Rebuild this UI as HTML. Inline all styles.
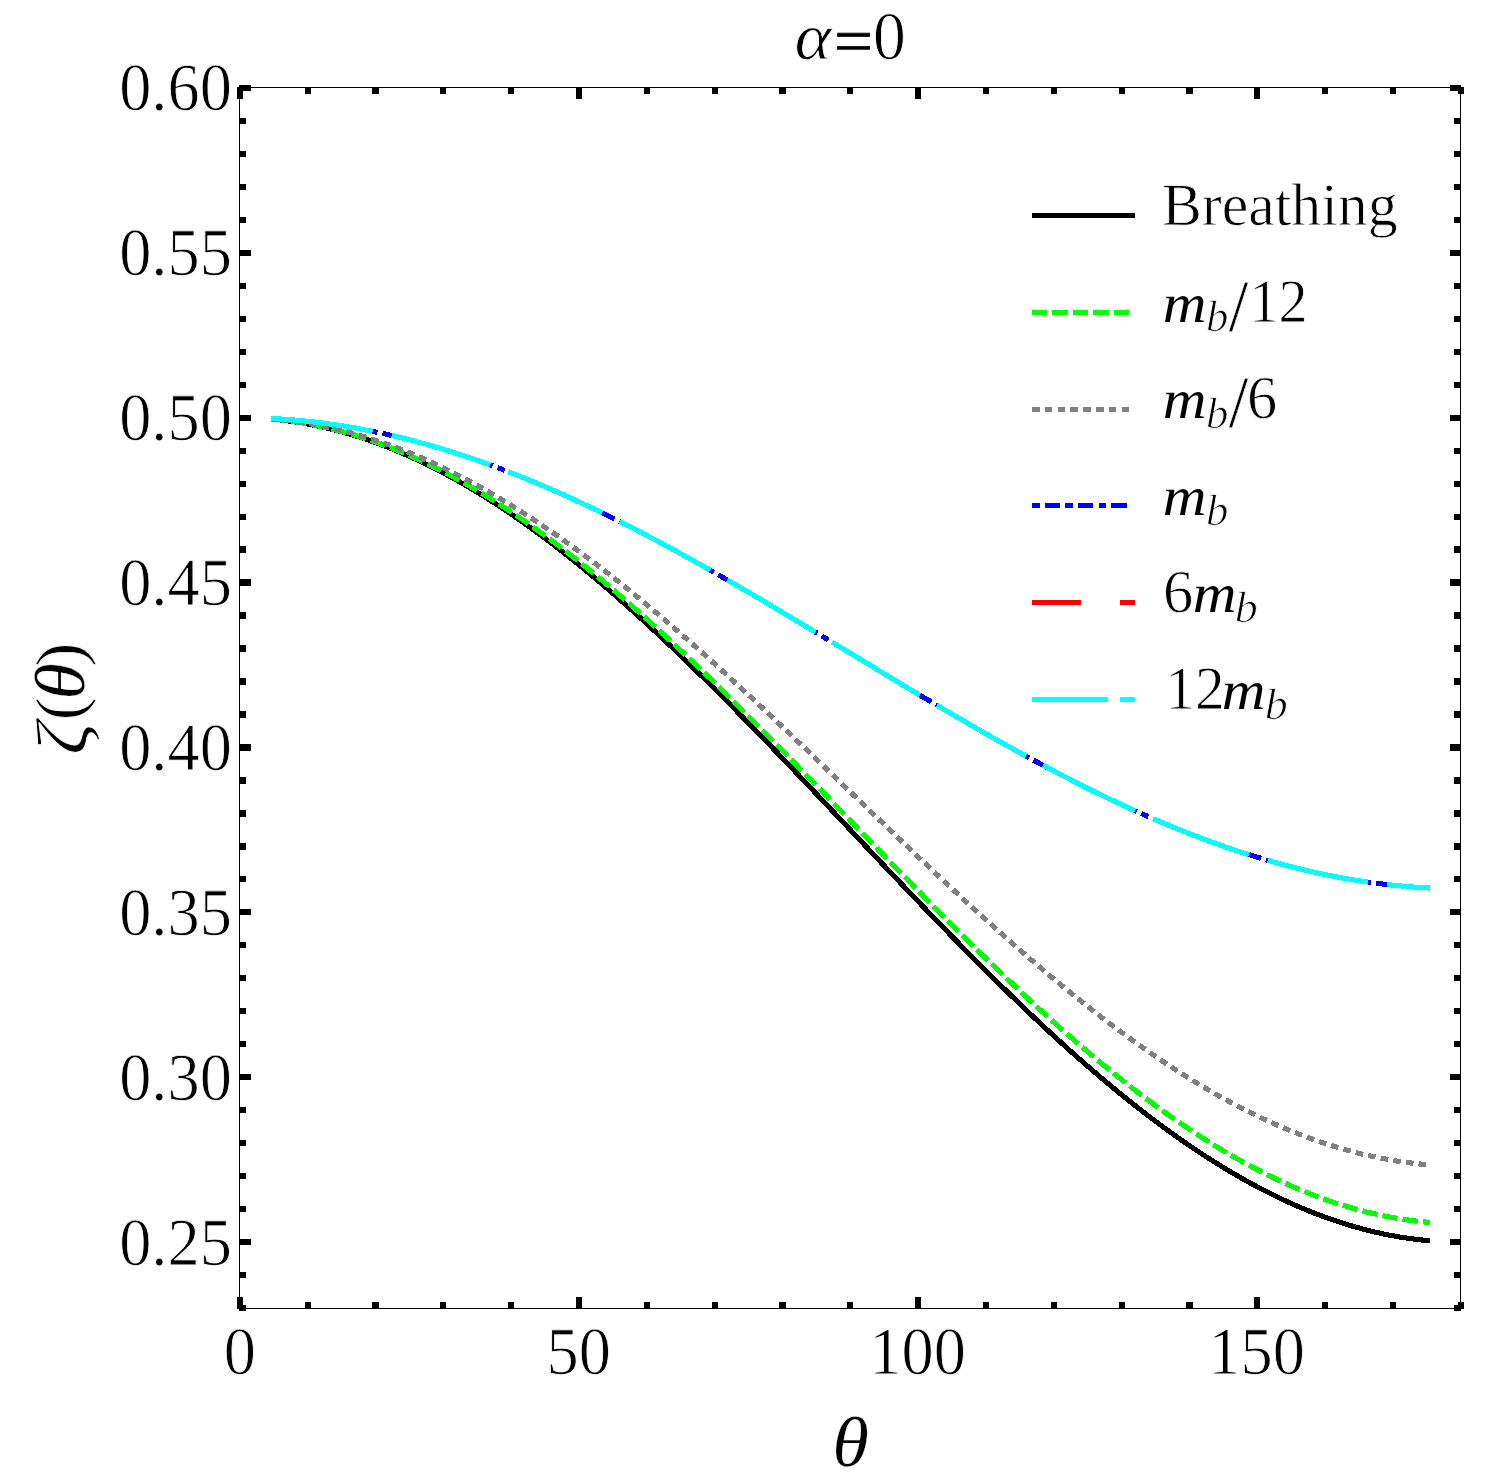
<!DOCTYPE html>
<html lang="en"><head><meta charset="utf-8"><title>alpha=0</title>
<style>
html,body{margin:0;padding:0;background:#fff;}
body{width:1503px;height:1484px;overflow:hidden;}
svg{display:block;}
text{font-family:"Liberation Serif","DejaVu Serif",serif;fill:#000;font-kerning:none;font-variant-ligatures:none;text-rendering:geometricPrecision;stroke:#fff;stroke-width:0.8;stroke-linejoin:round;}
.it{font-style:italic;}
.c{fill:none;stroke-width:5.116;stroke-linecap:butt;stroke-linejoin:round;shape-rendering:crispEdges;}
.k rect{shape-rendering:crispEdges;fill:#000;}
</style></head><body>
<svg width="1503" height="1484" viewBox="0 0 1503 1484">
<rect width="1503" height="1484" fill="#fff"/>
<g class="c">
<path d="M270.92,419.05 L273.24,419.25 L275.55,419.47 L277.87,419.70 L280.19,419.95 L282.51,420.21 L284.82,420.49 L287.14,420.78 L289.46,421.08 L291.78,421.40 L294.09,421.74 L296.41,422.09 L298.73,422.45 L301.05,422.83 L303.37,423.22 L305.68,423.63 L308.00,424.05 L310.32,424.49 L312.64,424.94 L314.95,425.40 L317.27,425.88 L319.59,426.37 L321.91,426.88 L324.23,427.40 L326.54,427.94 L328.86,428.49 L331.18,429.06 L333.50,429.64 L335.81,430.23 L338.13,430.84 L340.45,431.46 L342.77,432.10 L345.09,432.75 L347.40,433.41 L349.72,434.09 L352.04,434.78 L354.36,435.49 L356.67,436.21 L358.99,436.94 L361.31,437.69 L363.63,438.46 L365.94,439.23 L368.26,440.02 L370.58,440.83 L372.90,441.65 L375.22,442.48 L377.53,443.32 L379.85,444.18 L382.17,445.06 L384.49,445.94 L386.80,446.84 L389.12,447.76 L391.44,448.68 L393.76,449.63 L396.08,450.58 L398.39,451.55 L400.71,452.53 L403.03,453.53 L405.35,454.53 L407.66,455.56 L409.98,456.59 L412.30,457.64 L414.62,458.70 L416.93,459.78 L419.25,460.87 L421.57,461.97 L423.89,463.08 L426.21,464.21 L428.52,465.35 L430.84,466.50 L433.16,467.67 L435.48,468.85 L437.79,470.04 L440.11,471.24 L442.43,472.46 L444.75,473.69 L447.07,474.94 L449.38,476.19 L451.70,477.46 L454.02,478.74 L456.34,480.03 L458.65,481.34 L460.97,482.66 L463.29,483.99 L465.61,485.33 L467.92,486.68 L470.24,488.05 L472.56,489.43 L474.88,490.82 L477.20,492.23 L479.51,493.64 L481.83,495.07 L484.15,496.51 L486.47,497.96 L488.78,499.42 L491.10,500.90 L493.42,502.38 L495.74,503.88 L498.06,505.39 L500.37,506.91 L502.69,508.44 L505.01,509.99 L507.33,511.54 L509.64,513.11 L511.96,514.69 L514.28,516.28 L516.60,517.88 L518.91,519.49 L521.23,521.11 L523.55,522.75 L525.87,524.39 L528.19,526.05 L530.50,527.71 L532.82,529.39 L535.14,531.08 L537.46,532.77 L539.77,534.48 L542.09,536.20 L544.41,537.93 L546.73,539.67 L549.05,541.42 L551.36,543.18 L553.68,544.95 L556.00,546.74 L558.32,548.53 L560.63,550.33 L562.95,552.14 L565.27,553.96 L567.59,555.79 L569.90,557.63 L572.22,559.48 L574.54,561.34 L576.86,563.21 L579.18,565.09 L581.49,566.98 L583.81,568.87 L586.13,570.78 L588.45,572.70 L590.76,574.62 L593.08,576.56 L595.40,578.50 L597.72,580.45 L600.04,582.41 L602.35,584.38 L604.67,586.36 L606.99,588.35 L609.31,590.34 L611.62,592.35 L613.94,594.36 L616.26,596.38 L618.58,598.41 L620.89,600.45 L623.21,602.50 L625.53,604.55 L627.85,606.61 L630.17,608.68 L632.48,610.76 L634.80,612.85 L637.12,614.94 L639.44,617.04 L641.75,619.15 L644.07,621.26 L646.39,623.39 L648.71,625.52 L651.03,627.66 L653.34,629.80 L655.66,631.95 L657.98,634.11 L660.30,636.28 L662.61,638.45 L664.93,640.63 L667.25,642.82 L669.57,645.01 L671.88,647.21 L674.20,649.42 L676.52,651.63 L678.84,653.85 L681.16,656.08 L683.47,658.31 L685.79,660.55 L688.11,662.79 L690.43,665.04 L692.74,667.30 L695.06,669.56 L697.38,671.83 L699.70,674.10 L702.02,676.38 L704.33,678.66 L706.65,680.95 L708.97,683.24 L711.29,685.54 L713.60,687.85 L715.92,690.16 L718.24,692.47 L720.56,694.79 L722.87,697.12 L725.19,699.45 L727.51,701.78 L729.83,704.12 L732.15,706.46 L734.46,708.81 L736.78,711.16 L739.10,713.52 L741.42,715.88 L743.73,718.24 L746.05,720.61 L748.37,722.98 L750.69,725.36 L753.01,727.74 L755.32,730.12 L757.64,732.51 L759.96,734.90 L762.28,737.29 L764.59,739.69 L766.91,742.09 L769.23,744.49 L771.55,746.89 L773.86,749.30 L776.18,751.72 L778.50,754.13 L780.82,756.55 L783.14,758.97 L785.45,761.39 L787.77,763.81 L790.09,766.24 L792.41,768.67 L794.72,771.10 L797.04,773.54 L799.36,775.97 L801.68,778.41 L804.00,780.85 L806.31,783.29 L808.63,785.73 L810.95,788.18 L813.27,790.63 L815.58,793.07 L817.90,795.52 L820.22,797.97 L822.54,800.42 L824.85,802.87 L827.17,805.33 L829.49,807.78 L831.81,810.24 L834.13,812.69 L836.44,815.15 L838.76,817.60 L841.08,820.06 L843.40,822.52 L845.71,824.98 L848.03,827.43 L850.35,829.89 L852.67,832.35 L854.99,834.81 L857.30,837.27 L859.62,839.72 L861.94,842.18 L864.26,844.64 L866.57,847.09 L868.89,849.55 L871.21,852.00 L873.53,854.46 L875.85,856.91 L878.16,859.36 L880.48,861.81 L882.80,864.26 L885.12,866.71 L887.43,869.16 L889.75,871.60 L892.07,874.05 L894.39,876.49 L896.70,878.93 L899.02,881.37 L901.34,883.81 L903.66,886.25 L905.98,888.68 L908.29,891.11 L910.61,893.54 L912.93,895.97 L915.25,898.39 L917.56,900.82 L919.88,903.24 L922.20,905.65 L924.52,908.07 L926.84,910.48 L929.15,912.89 L931.47,915.30 L933.79,917.70 L936.11,920.10 L938.42,922.49 L940.74,924.89 L943.06,927.28 L945.38,929.66 L947.69,932.05 L950.01,934.43 L952.33,936.80 L954.65,939.17 L956.97,941.54 L959.28,943.91 L961.60,946.27 L963.92,948.62 L966.24,950.97 L968.55,953.32 L970.87,955.66 L973.19,958.00 L975.51,960.34 L977.83,962.67 L980.14,964.99 L982.46,967.31 L984.78,969.62 L987.10,971.93 L989.41,974.24 L991.73,976.54 L994.05,978.83 L996.37,981.12 L998.68,983.41 L1001.00,985.68 L1003.32,987.96 L1005.64,990.22 L1007.96,992.49 L1010.27,994.74 L1012.59,996.99 L1014.91,999.24 L1017.23,1001.47 L1019.54,1003.71 L1021.86,1005.93 L1024.18,1008.15 L1026.50,1010.36 L1028.82,1012.57 L1031.13,1014.77 L1033.45,1016.96 L1035.77,1019.15 L1038.09,1021.33 L1040.40,1023.50 L1042.72,1025.67 L1045.04,1027.83 L1047.36,1029.98 L1049.67,1032.13 L1051.99,1034.26 L1054.31,1036.40 L1056.63,1038.52 L1058.95,1040.63 L1061.26,1042.74 L1063.58,1044.84 L1065.90,1046.94 L1068.22,1049.02 L1070.53,1051.10 L1072.85,1053.17 L1075.17,1055.23 L1077.49,1057.29 L1079.81,1059.33 L1082.12,1061.37 L1084.44,1063.40 L1086.76,1065.42 L1089.08,1067.43 L1091.39,1069.44 L1093.71,1071.43 L1096.03,1073.42 L1098.35,1075.40 L1100.66,1077.37 L1102.98,1079.33 L1105.30,1081.28 L1107.62,1083.23 L1109.94,1085.16 L1112.25,1087.09 L1114.57,1089.00 L1116.89,1090.91 L1119.21,1092.81 L1121.52,1094.70 L1123.84,1096.57 L1126.16,1098.44 L1128.48,1100.30 L1130.80,1102.15 L1133.11,1103.99 L1135.43,1105.82 L1137.75,1107.65 L1140.07,1109.46 L1142.38,1111.26 L1144.70,1113.05 L1147.02,1114.83 L1149.34,1116.60 L1151.65,1118.36 L1153.97,1120.11 L1156.29,1121.85 L1158.61,1123.58 L1160.93,1125.30 L1163.24,1127.01 L1165.56,1128.71 L1167.88,1130.40 L1170.20,1132.07 L1172.51,1133.74 L1174.83,1135.39 L1177.15,1137.04 L1179.47,1138.67 L1181.79,1140.29 L1184.10,1141.91 L1186.42,1143.51 L1188.74,1145.10 L1191.06,1146.67 L1193.37,1148.24 L1195.69,1149.80 L1198.01,1151.34 L1200.33,1152.87 L1202.64,1154.39 L1204.96,1155.90 L1207.28,1157.40 L1209.60,1158.89 L1211.92,1160.36 L1214.23,1161.83 L1216.55,1163.28 L1218.87,1164.72 L1221.19,1166.14 L1223.50,1167.56 L1225.82,1168.96 L1228.14,1170.35 L1230.46,1171.73 L1232.78,1173.10 L1235.09,1174.45 L1237.41,1175.80 L1239.73,1177.13 L1242.05,1178.45 L1244.36,1179.75 L1246.68,1181.04 L1249.00,1182.32 L1251.32,1183.59 L1253.63,1184.85 L1255.95,1186.09 L1258.27,1187.32 L1260.59,1188.54 L1262.91,1189.74 L1265.22,1190.94 L1267.54,1192.12 L1269.86,1193.28 L1272.18,1194.43 L1274.49,1195.58 L1276.81,1196.70 L1279.13,1197.82 L1281.45,1198.92 L1283.77,1200.01 L1286.08,1201.08 L1288.40,1202.14 L1290.72,1203.19 L1293.04,1204.23 L1295.35,1205.25 L1297.67,1206.26 L1299.99,1207.25 L1302.31,1208.23 L1304.62,1209.20 L1306.94,1210.16 L1309.26,1211.10 L1311.58,1212.03 L1313.90,1212.94 L1316.21,1213.84 L1318.53,1214.73 L1320.85,1215.60 L1323.17,1216.46 L1325.48,1217.31 L1327.80,1218.14 L1330.12,1218.96 L1332.44,1219.76 L1334.76,1220.55 L1337.07,1221.33 L1339.39,1222.09 L1341.71,1222.84 L1344.03,1223.57 L1346.34,1224.30 L1348.66,1225.00 L1350.98,1225.69 L1353.30,1226.37 L1355.61,1227.04 L1357.93,1227.69 L1360.25,1228.32 L1362.57,1228.95 L1364.89,1229.55 L1367.20,1230.15 L1369.52,1230.73 L1371.84,1231.29 L1374.16,1231.84 L1376.47,1232.38 L1378.79,1232.90 L1381.11,1233.41 L1383.43,1233.90 L1385.75,1234.38 L1388.06,1234.85 L1390.38,1235.30 L1392.70,1235.73 L1395.02,1236.16 L1397.33,1236.56 L1399.65,1236.96 L1401.97,1237.33 L1404.29,1237.70 L1406.61,1238.05 L1408.92,1238.38 L1411.24,1238.70 L1413.56,1239.01 L1415.88,1239.30 L1418.19,1239.57 L1420.51,1239.84 L1422.83,1240.08 L1425.15,1240.32 L1427.46,1240.53 L1429.78,1240.74" stroke="#000"/>
<path d="M270.92,419.02 L273.24,419.22 L275.55,419.43 L277.87,419.66 L280.19,419.90 L282.51,420.15 L284.82,420.42 L287.14,420.71 L289.46,421.01 L291.78,421.32 L294.09,421.65 L296.41,421.99 L298.73,422.35 L301.05,422.72 L303.37,423.10 L305.68,423.50 L308.00,423.91 L310.32,424.34 L312.64,424.78 L314.95,425.23 L317.27,425.70 L319.59,426.18 L321.91,426.68 L324.23,427.19 L326.54,427.71 L328.86,428.25 L331.18,428.80 L333.50,429.37 L335.81,429.95 L338.13,430.55 L340.45,431.15 L342.77,431.78 L345.09,432.41 L347.40,433.06 L349.72,433.73 L352.04,434.40 L354.36,435.09 L356.67,435.80 L358.99,436.52 L361.31,437.25 L363.63,437.99 L365.94,438.75 L368.26,439.53 L370.58,440.31 L372.90,441.11 L375.22,441.93 L377.53,442.75 L379.85,443.59 L382.17,444.45 L384.49,445.31 L386.80,446.20 L389.12,447.09 L391.44,448.00 L393.76,448.92 L396.08,449.85 L398.39,450.80 L400.71,451.76 L403.03,452.73 L405.35,453.72 L407.66,454.72 L409.98,455.73 L412.30,456.75 L414.62,457.79 L416.93,458.84 L419.25,459.91 L421.57,460.98 L423.89,462.07 L426.21,463.17 L428.52,464.29 L430.84,465.42 L433.16,466.56 L435.48,467.71 L437.79,468.88 L440.11,470.05 L442.43,471.24 L444.75,472.45 L447.07,473.66 L449.38,474.89 L451.70,476.13 L454.02,477.38 L456.34,478.65 L458.65,479.92 L460.97,481.21 L463.29,482.51 L465.61,483.83 L467.92,485.15 L470.24,486.49 L472.56,487.84 L474.88,489.20 L477.20,490.57 L479.51,491.95 L481.83,493.35 L484.15,494.76 L486.47,496.17 L488.78,497.60 L491.10,499.05 L493.42,500.50 L495.74,501.96 L498.06,503.44 L500.37,504.93 L502.69,506.43 L505.01,507.94 L507.33,509.46 L509.64,510.99 L511.96,512.53 L514.28,514.09 L516.60,515.65 L518.91,517.23 L521.23,518.81 L523.55,520.41 L525.87,522.02 L528.19,523.64 L530.50,525.27 L532.82,526.91 L535.14,528.56 L537.46,530.22 L539.77,531.89 L542.09,533.57 L544.41,535.26 L546.73,536.96 L549.05,538.67 L551.36,540.39 L553.68,542.12 L556.00,543.87 L558.32,545.62 L560.63,547.38 L562.95,549.15 L565.27,550.93 L567.59,552.72 L569.90,554.52 L572.22,556.33 L574.54,558.15 L576.86,559.97 L579.18,561.81 L581.49,563.66 L583.81,565.51 L586.13,567.38 L588.45,569.25 L590.76,571.13 L593.08,573.02 L595.40,574.92 L597.72,576.83 L600.04,578.75 L602.35,580.68 L604.67,582.61 L606.99,584.55 L609.31,586.51 L611.62,588.47 L613.94,590.43 L616.26,592.41 L618.58,594.39 L620.89,596.39 L623.21,598.39 L625.53,600.40 L627.85,602.41 L630.17,604.44 L632.48,606.47 L634.80,608.51 L637.12,610.55 L639.44,612.61 L641.75,614.67 L644.07,616.74 L646.39,618.81 L648.71,620.90 L651.03,622.99 L653.34,625.09 L655.66,627.19 L657.98,629.30 L660.30,631.42 L662.61,633.55 L664.93,635.68 L667.25,637.81 L669.57,639.96 L671.88,642.11 L674.20,644.27 L676.52,646.43 L678.84,648.60 L681.16,650.78 L683.47,652.96 L685.79,655.15 L688.11,657.34 L690.43,659.54 L692.74,661.75 L695.06,663.96 L697.38,666.18 L699.70,668.40 L702.02,670.62 L704.33,672.86 L706.65,675.10 L708.97,677.34 L711.29,679.59 L713.60,681.84 L715.92,684.10 L718.24,686.36 L720.56,688.63 L722.87,690.90 L725.19,693.18 L727.51,695.46 L729.83,697.75 L732.15,700.04 L734.46,702.34 L736.78,704.64 L739.10,706.94 L741.42,709.25 L743.73,711.56 L746.05,713.87 L748.37,716.19 L750.69,718.51 L753.01,720.84 L755.32,723.17 L757.64,725.50 L759.96,727.84 L762.28,730.18 L764.59,732.53 L766.91,734.87 L769.23,737.22 L771.55,739.57 L773.86,741.93 L776.18,744.29 L778.50,746.65 L780.82,749.01 L783.14,751.38 L785.45,753.75 L787.77,756.12 L790.09,758.49 L792.41,760.87 L794.72,763.24 L797.04,765.62 L799.36,768.01 L801.68,770.39 L804.00,772.77 L806.31,775.16 L808.63,777.55 L810.95,779.94 L813.27,782.33 L815.58,784.72 L817.90,787.12 L820.22,789.51 L822.54,791.91 L824.85,794.31 L827.17,796.71 L829.49,799.11 L831.81,801.51 L834.13,803.91 L836.44,806.31 L838.76,808.71 L841.08,811.11 L843.40,813.52 L845.71,815.92 L848.03,818.32 L850.35,820.73 L852.67,823.13 L854.99,825.53 L857.30,827.93 L859.62,830.34 L861.94,832.74 L864.26,835.14 L866.57,837.54 L868.89,839.94 L871.21,842.34 L873.53,844.74 L875.85,847.14 L878.16,849.54 L880.48,851.94 L882.80,854.33 L885.12,856.73 L887.43,859.12 L889.75,861.51 L892.07,863.90 L894.39,866.29 L896.70,868.68 L899.02,871.06 L901.34,873.45 L903.66,875.83 L905.98,878.21 L908.29,880.58 L910.61,882.96 L912.93,885.33 L915.25,887.70 L917.56,890.07 L919.88,892.44 L922.20,894.80 L924.52,897.16 L926.84,899.52 L929.15,901.88 L931.47,904.23 L933.79,906.58 L936.11,908.93 L938.42,911.27 L940.74,913.61 L943.06,915.95 L945.38,918.28 L947.69,920.61 L950.01,922.94 L952.33,925.26 L954.65,927.58 L956.97,929.89 L959.28,932.20 L961.60,934.51 L963.92,936.82 L966.24,939.11 L968.55,941.41 L970.87,943.70 L973.19,945.99 L975.51,948.27 L977.83,950.55 L980.14,952.82 L982.46,955.09 L984.78,957.35 L987.10,959.61 L989.41,961.86 L991.73,964.11 L994.05,966.35 L996.37,968.59 L998.68,970.83 L1001.00,973.05 L1003.32,975.28 L1005.64,977.49 L1007.96,979.70 L1010.27,981.91 L1012.59,984.11 L1014.91,986.30 L1017.23,988.49 L1019.54,990.67 L1021.86,992.85 L1024.18,995.02 L1026.50,997.18 L1028.82,999.34 L1031.13,1001.49 L1033.45,1003.64 L1035.77,1005.77 L1038.09,1007.91 L1040.40,1010.03 L1042.72,1012.15 L1045.04,1014.26 L1047.36,1016.36 L1049.67,1018.46 L1051.99,1020.55 L1054.31,1022.64 L1056.63,1024.71 L1058.95,1026.78 L1061.26,1028.84 L1063.58,1030.90 L1065.90,1032.94 L1068.22,1034.98 L1070.53,1037.02 L1072.85,1039.04 L1075.17,1041.06 L1077.49,1043.06 L1079.81,1045.06 L1082.12,1047.06 L1084.44,1049.04 L1086.76,1051.02 L1089.08,1052.99 L1091.39,1054.94 L1093.71,1056.90 L1096.03,1058.84 L1098.35,1060.77 L1100.66,1062.70 L1102.98,1064.62 L1105.30,1066.53 L1107.62,1068.43 L1109.94,1070.32 L1112.25,1072.20 L1114.57,1074.07 L1116.89,1075.94 L1119.21,1077.79 L1121.52,1079.64 L1123.84,1081.48 L1126.16,1083.30 L1128.48,1085.12 L1130.80,1086.93 L1133.11,1088.73 L1135.43,1090.52 L1137.75,1092.30 L1140.07,1094.07 L1142.38,1095.83 L1144.70,1097.58 L1147.02,1099.33 L1149.34,1101.06 L1151.65,1102.78 L1153.97,1104.49 L1156.29,1106.19 L1158.61,1107.88 L1160.93,1109.56 L1163.24,1111.24 L1165.56,1112.90 L1167.88,1114.55 L1170.20,1116.19 L1172.51,1117.81 L1174.83,1119.43 L1177.15,1121.04 L1179.47,1122.64 L1181.79,1124.22 L1184.10,1125.80 L1186.42,1127.36 L1188.74,1128.92 L1191.06,1130.46 L1193.37,1131.99 L1195.69,1133.51 L1198.01,1135.02 L1200.33,1136.52 L1202.64,1138.01 L1204.96,1139.49 L1207.28,1140.95 L1209.60,1142.40 L1211.92,1143.85 L1214.23,1145.28 L1216.55,1146.70 L1218.87,1148.10 L1221.19,1149.50 L1223.50,1150.88 L1225.82,1152.25 L1228.14,1153.62 L1230.46,1154.96 L1232.78,1156.30 L1235.09,1157.63 L1237.41,1158.94 L1239.73,1160.24 L1242.05,1161.53 L1244.36,1162.80 L1246.68,1164.07 L1249.00,1165.32 L1251.32,1166.56 L1253.63,1167.79 L1255.95,1169.00 L1258.27,1170.21 L1260.59,1171.40 L1262.91,1172.57 L1265.22,1173.74 L1267.54,1174.89 L1269.86,1176.03 L1272.18,1177.16 L1274.49,1178.28 L1276.81,1179.38 L1279.13,1180.47 L1281.45,1181.54 L1283.77,1182.61 L1286.08,1183.66 L1288.40,1184.70 L1290.72,1185.72 L1293.04,1186.74 L1295.35,1187.73 L1297.67,1188.72 L1299.99,1189.69 L1302.31,1190.65 L1304.62,1191.60 L1306.94,1192.53 L1309.26,1193.45 L1311.58,1194.36 L1313.90,1195.26 L1316.21,1196.14 L1318.53,1197.00 L1320.85,1197.86 L1323.17,1198.70 L1325.48,1199.52 L1327.80,1200.34 L1330.12,1201.14 L1332.44,1201.92 L1334.76,1202.70 L1337.07,1203.46 L1339.39,1204.20 L1341.71,1204.93 L1344.03,1205.65 L1346.34,1206.36 L1348.66,1207.05 L1350.98,1207.73 L1353.30,1208.39 L1355.61,1209.04 L1357.93,1209.67 L1360.25,1210.30 L1362.57,1210.90 L1364.89,1211.50 L1367.20,1212.08 L1369.52,1212.65 L1371.84,1213.20 L1374.16,1213.74 L1376.47,1214.26 L1378.79,1214.77 L1381.11,1215.27 L1383.43,1215.75 L1385.75,1216.22 L1388.06,1216.67 L1390.38,1217.11 L1392.70,1217.54 L1395.02,1217.95 L1397.33,1218.35 L1399.65,1218.74 L1401.97,1219.11 L1404.29,1219.46 L1406.61,1219.80 L1408.92,1220.13 L1411.24,1220.44 L1413.56,1220.74 L1415.88,1221.03 L1418.19,1221.30 L1420.51,1221.55 L1422.83,1221.79 L1425.15,1222.02 L1427.46,1222.24 L1429.78,1222.43" stroke="#0f0" stroke-dasharray="15.35 5.12"/>
<path d="M270.92,418.92 L273.24,419.11 L275.55,419.31 L277.87,419.52 L280.19,419.74 L282.51,419.98 L284.82,420.23 L287.14,420.50 L289.46,420.77 L291.78,421.06 L294.09,421.37 L296.41,421.69 L298.73,422.02 L301.05,422.36 L303.37,422.72 L305.68,423.08 L308.00,423.47 L310.32,423.86 L312.64,424.27 L314.95,424.69 L317.27,425.13 L319.59,425.58 L321.91,426.04 L324.23,426.51 L326.54,427.00 L328.86,427.50 L331.18,428.01 L333.50,428.54 L335.81,429.08 L338.13,429.63 L340.45,430.19 L342.77,430.77 L345.09,431.36 L347.40,431.97 L349.72,432.58 L352.04,433.21 L354.36,433.85 L356.67,434.51 L358.99,435.17 L361.31,435.85 L363.63,436.55 L365.94,437.25 L368.26,437.97 L370.58,438.70 L372.90,439.44 L375.22,440.20 L377.53,440.96 L379.85,441.74 L382.17,442.54 L384.49,443.34 L386.80,444.16 L389.12,444.99 L391.44,445.83 L393.76,446.69 L396.08,447.55 L398.39,448.43 L400.71,449.32 L403.03,450.23 L405.35,451.14 L407.66,452.07 L409.98,453.01 L412.30,453.96 L414.62,454.93 L416.93,455.90 L419.25,456.89 L421.57,457.89 L423.89,458.90 L426.21,459.93 L428.52,460.96 L430.84,462.01 L433.16,463.07 L435.48,464.14 L437.79,465.22 L440.11,466.31 L442.43,467.42 L444.75,468.53 L447.07,469.66 L449.38,470.80 L451.70,471.95 L454.02,473.12 L456.34,474.29 L458.65,475.48 L460.97,476.67 L463.29,477.88 L465.61,479.10 L467.92,480.33 L470.24,481.57 L472.56,482.82 L474.88,484.09 L477.20,485.36 L479.51,486.64 L481.83,487.94 L484.15,489.25 L486.47,490.56 L488.78,491.89 L491.10,493.23 L493.42,494.58 L495.74,495.94 L498.06,497.31 L500.37,498.69 L502.69,500.08 L505.01,501.49 L507.33,502.90 L509.64,504.32 L511.96,505.75 L514.28,507.20 L516.60,508.65 L518.91,510.11 L521.23,511.58 L523.55,513.07 L525.87,514.56 L528.19,516.06 L530.50,517.58 L532.82,519.10 L535.14,520.63 L537.46,522.17 L539.77,523.72 L542.09,525.28 L544.41,526.85 L546.73,528.43 L549.05,530.02 L551.36,531.62 L553.68,533.23 L556.00,534.85 L558.32,536.47 L560.63,538.11 L562.95,539.75 L565.27,541.40 L567.59,543.07 L569.90,544.74 L572.22,546.42 L574.54,548.11 L576.86,549.80 L579.18,551.51 L581.49,553.22 L583.81,554.94 L586.13,556.68 L588.45,558.42 L590.76,560.16 L593.08,561.92 L595.40,563.68 L597.72,565.46 L600.04,567.24 L602.35,569.02 L604.67,570.82 L606.99,572.62 L609.31,574.44 L611.62,576.26 L613.94,578.08 L616.26,579.92 L618.58,581.76 L620.89,583.61 L623.21,585.47 L625.53,587.33 L627.85,589.21 L630.17,591.08 L632.48,592.97 L634.80,594.86 L637.12,596.76 L639.44,598.67 L641.75,600.59 L644.07,602.51 L646.39,604.43 L648.71,606.37 L651.03,608.31 L653.34,610.26 L655.66,612.21 L657.98,614.17 L660.30,616.14 L662.61,618.11 L664.93,620.09 L667.25,622.08 L669.57,624.07 L671.88,626.07 L674.20,628.07 L676.52,630.08 L678.84,632.09 L681.16,634.11 L683.47,636.14 L685.79,638.17 L688.11,640.21 L690.43,642.25 L692.74,644.30 L695.06,646.35 L697.38,648.41 L699.70,650.47 L702.02,652.54 L704.33,654.61 L706.65,656.69 L708.97,658.77 L711.29,660.86 L713.60,662.95 L715.92,665.05 L718.24,667.15 L720.56,669.26 L722.87,671.37 L725.19,673.48 L727.51,675.60 L729.83,677.73 L732.15,679.85 L734.46,681.98 L736.78,684.12 L739.10,686.26 L741.42,688.40 L743.73,690.55 L746.05,692.70 L748.37,694.85 L750.69,697.01 L753.01,699.17 L755.32,701.33 L757.64,703.50 L759.96,705.67 L762.28,707.84 L764.59,710.01 L766.91,712.19 L769.23,714.37 L771.55,716.56 L773.86,718.75 L776.18,720.94 L778.50,723.13 L780.82,725.32 L783.14,727.52 L785.45,729.72 L787.77,731.92 L790.09,734.12 L792.41,736.33 L794.72,738.54 L797.04,740.75 L799.36,742.96 L801.68,745.17 L804.00,747.39 L806.31,749.60 L808.63,751.82 L810.95,754.04 L813.27,756.26 L815.58,758.48 L817.90,760.70 L820.22,762.93 L822.54,765.15 L824.85,767.38 L827.17,769.61 L829.49,771.83 L831.81,774.06 L834.13,776.29 L836.44,778.52 L838.76,780.75 L841.08,782.98 L843.40,785.21 L845.71,787.44 L848.03,789.68 L850.35,791.91 L852.67,794.14 L854.99,796.37 L857.30,798.60 L859.62,800.83 L861.94,803.06 L864.26,805.29 L866.57,807.52 L868.89,809.75 L871.21,811.98 L873.53,814.21 L875.85,816.43 L878.16,818.66 L880.48,820.89 L882.80,823.11 L885.12,825.33 L887.43,827.56 L889.75,829.78 L892.07,831.99 L894.39,834.21 L896.70,836.43 L899.02,838.64 L901.34,840.86 L903.66,843.07 L905.98,845.28 L908.29,847.49 L910.61,849.69 L912.93,851.89 L915.25,854.10 L917.56,856.30 L919.88,858.49 L922.20,860.69 L924.52,862.88 L926.84,865.07 L929.15,867.26 L931.47,869.44 L933.79,871.62 L936.11,873.80 L938.42,875.98 L940.74,878.15 L943.06,880.32 L945.38,882.48 L947.69,884.65 L950.01,886.81 L952.33,888.97 L954.65,891.12 L956.97,893.27 L959.28,895.41 L961.60,897.56 L963.92,899.70 L966.24,901.83 L968.55,903.96 L970.87,906.09 L973.19,908.21 L975.51,910.33 L977.83,912.44 L980.14,914.55 L982.46,916.66 L984.78,918.76 L987.10,920.86 L989.41,922.95 L991.73,925.04 L994.05,927.12 L996.37,929.20 L998.68,931.27 L1001.00,933.34 L1003.32,935.41 L1005.64,937.46 L1007.96,939.52 L1010.27,941.56 L1012.59,943.61 L1014.91,945.64 L1017.23,947.68 L1019.54,949.70 L1021.86,951.72 L1024.18,953.74 L1026.50,955.75 L1028.82,957.75 L1031.13,959.75 L1033.45,961.74 L1035.77,963.72 L1038.09,965.70 L1040.40,967.68 L1042.72,969.64 L1045.04,971.60 L1047.36,973.56 L1049.67,975.50 L1051.99,977.44 L1054.31,979.38 L1056.63,981.31 L1058.95,983.23 L1061.26,985.14 L1063.58,987.05 L1065.90,988.95 L1068.22,990.84 L1070.53,992.73 L1072.85,994.61 L1075.17,996.48 L1077.49,998.35 L1079.81,1000.20 L1082.12,1002.05 L1084.44,1003.90 L1086.76,1005.73 L1089.08,1007.56 L1091.39,1009.38 L1093.71,1011.19 L1096.03,1012.99 L1098.35,1014.79 L1100.66,1016.58 L1102.98,1018.36 L1105.30,1020.13 L1107.62,1021.90 L1109.94,1023.65 L1112.25,1025.40 L1114.57,1027.14 L1116.89,1028.87 L1119.21,1030.59 L1121.52,1032.31 L1123.84,1034.01 L1126.16,1035.71 L1128.48,1037.40 L1130.80,1039.08 L1133.11,1040.75 L1135.43,1042.41 L1137.75,1044.06 L1140.07,1045.71 L1142.38,1047.34 L1144.70,1048.97 L1147.02,1050.58 L1149.34,1052.19 L1151.65,1053.79 L1153.97,1055.38 L1156.29,1056.96 L1158.61,1058.53 L1160.93,1060.09 L1163.24,1061.64 L1165.56,1063.18 L1167.88,1064.72 L1170.20,1066.24 L1172.51,1067.75 L1174.83,1069.25 L1177.15,1070.75 L1179.47,1072.23 L1181.79,1073.70 L1184.10,1075.17 L1186.42,1076.62 L1188.74,1078.06 L1191.06,1079.49 L1193.37,1080.92 L1195.69,1082.33 L1198.01,1083.73 L1200.33,1085.12 L1202.64,1086.50 L1204.96,1087.87 L1207.28,1089.23 L1209.60,1090.58 L1211.92,1091.92 L1214.23,1093.25 L1216.55,1094.57 L1218.87,1095.87 L1221.19,1097.17 L1223.50,1098.45 L1225.82,1099.73 L1228.14,1100.99 L1230.46,1102.24 L1232.78,1103.48 L1235.09,1104.71 L1237.41,1105.93 L1239.73,1107.14 L1242.05,1108.34 L1244.36,1109.52 L1246.68,1110.70 L1249.00,1111.86 L1251.32,1113.01 L1253.63,1114.15 L1255.95,1115.28 L1258.27,1116.40 L1260.59,1117.50 L1262.91,1118.60 L1265.22,1119.68 L1267.54,1120.75 L1269.86,1121.81 L1272.18,1122.85 L1274.49,1123.89 L1276.81,1124.91 L1279.13,1125.92 L1281.45,1126.92 L1283.77,1127.91 L1286.08,1128.89 L1288.40,1129.85 L1290.72,1130.80 L1293.04,1131.74 L1295.35,1132.67 L1297.67,1133.59 L1299.99,1134.49 L1302.31,1135.38 L1304.62,1136.26 L1306.94,1137.13 L1309.26,1137.98 L1311.58,1138.82 L1313.90,1139.65 L1316.21,1140.47 L1318.53,1141.28 L1320.85,1142.07 L1323.17,1142.85 L1325.48,1143.62 L1327.80,1144.37 L1330.12,1145.12 L1332.44,1145.85 L1334.76,1146.56 L1337.07,1147.27 L1339.39,1147.96 L1341.71,1148.64 L1344.03,1149.31 L1346.34,1149.96 L1348.66,1150.60 L1350.98,1151.23 L1353.30,1151.85 L1355.61,1152.45 L1357.93,1153.04 L1360.25,1153.62 L1362.57,1154.18 L1364.89,1154.74 L1367.20,1155.28 L1369.52,1155.80 L1371.84,1156.31 L1374.16,1156.81 L1376.47,1157.30 L1378.79,1157.78 L1381.11,1158.24 L1383.43,1158.68 L1385.75,1159.12 L1388.06,1159.54 L1390.38,1159.95 L1392.70,1160.35 L1395.02,1160.73 L1397.33,1161.10 L1399.65,1161.46 L1401.97,1161.80 L1404.29,1162.13 L1406.61,1162.45 L1408.92,1162.75 L1411.24,1163.04 L1413.56,1163.32 L1415.88,1163.58 L1418.19,1163.83 L1420.51,1164.07 L1422.83,1164.30 L1425.15,1164.51 L1427.46,1164.70 L1429.78,1164.89" stroke="#808080" stroke-dasharray="7.67 5.12"/>
<path d="M270.92,418.48 L273.24,418.60 L275.55,418.72 L277.87,418.86 L280.19,419.00 L282.51,419.15 L284.82,419.30 L287.14,419.47 L289.46,419.65 L291.78,419.83 L294.09,420.02 L296.41,420.22 L298.73,420.43 L301.05,420.64 L303.37,420.87 L305.68,421.10 L308.00,421.34 L310.32,421.59 L312.64,421.85 L314.95,422.11 L317.27,422.39 L319.59,422.67 L321.91,422.96 L324.23,423.26 L326.54,423.56 L328.86,423.88 L331.18,424.20 L333.50,424.53 L335.81,424.87 L338.13,425.22 L340.45,425.58 L342.77,425.94 L345.09,426.31 L347.40,426.69 L349.72,427.08 L352.04,427.47 L354.36,427.88 L356.67,428.29 L358.99,428.71 L361.31,429.14 L363.63,429.57 L365.94,430.02 L368.26,430.47 L370.58,430.93 L372.90,431.40 L375.22,431.87 L377.53,432.35 L379.85,432.85 L382.17,433.34 L384.49,433.85 L386.80,434.37 L389.12,434.89 L391.44,435.42 L393.76,435.96 L396.08,436.50 L398.39,437.06 L400.71,437.62 L403.03,438.18 L405.35,438.76 L407.66,439.35 L409.98,439.94 L412.30,440.54 L414.62,441.14 L416.93,441.76 L419.25,442.38 L421.57,443.01 L423.89,443.64 L426.21,444.29 L428.52,444.94 L430.84,445.60 L433.16,446.27 L435.48,446.94 L437.79,447.62 L440.11,448.31 L442.43,449.01 L444.75,449.71 L447.07,450.42 L449.38,451.14 L451.70,451.86 L454.02,452.59 L456.34,453.33 L458.65,454.08 L460.97,454.83 L463.29,455.59 L465.61,456.36 L467.92,457.13 L470.24,457.91 L472.56,458.70 L474.88,459.50 L477.20,460.30 L479.51,461.11 L481.83,461.92 L484.15,462.75 L486.47,463.57 L488.78,464.41 L491.10,465.25 L493.42,466.10 L495.74,466.96 L498.06,467.82 L500.37,468.69 L502.69,469.57 L505.01,470.45 L507.33,471.34 L509.64,472.23 L511.96,473.13 L514.28,474.04 L516.60,474.96 L518.91,475.88 L521.23,476.81 L523.55,477.74 L525.87,478.68 L528.19,479.62 L530.50,480.58 L532.82,481.53 L535.14,482.50 L537.46,483.47 L539.77,484.45 L542.09,485.43 L544.41,486.42 L546.73,487.41 L549.05,488.41 L551.36,489.42 L553.68,490.43 L556.00,491.45 L558.32,492.47 L560.63,493.50 L562.95,494.53 L565.27,495.58 L567.59,496.62 L569.90,497.67 L572.22,498.73 L574.54,499.79 L576.86,500.86 L579.18,501.93 L581.49,503.01 L583.81,504.10 L586.13,505.19 L588.45,506.28 L590.76,507.38 L593.08,508.49 L595.40,509.60 L597.72,510.71 L600.04,511.83 L602.35,512.96 L604.67,514.09 L606.99,515.23 L609.31,516.37 L611.62,517.51 L613.94,518.66 L616.26,519.82 L618.58,520.98 L620.89,522.14 L623.21,523.31 L625.53,524.48 L627.85,525.66 L630.17,526.85 L632.48,528.03 L634.80,529.22 L637.12,530.42 L639.44,531.62 L641.75,532.83 L644.07,534.04 L646.39,535.25 L648.71,536.47 L651.03,537.69 L653.34,538.91 L655.66,540.14 L657.98,541.38 L660.30,542.62 L662.61,543.86 L664.93,545.10 L667.25,546.35 L669.57,547.61 L671.88,548.86 L674.20,550.12 L676.52,551.39 L678.84,552.66 L681.16,553.93 L683.47,555.20 L685.79,556.48 L688.11,557.77 L690.43,559.05 L692.74,560.34 L695.06,561.63 L697.38,562.93 L699.70,564.23 L702.02,565.53 L704.33,566.83 L706.65,568.14 L708.97,569.45 L711.29,570.77 L713.60,572.08 L715.92,573.40 L718.24,574.73 L720.56,576.05 L722.87,577.38 L725.19,578.71 L727.51,580.04 L729.83,581.38 L732.15,582.72 L734.46,584.06 L736.78,585.40 L739.10,586.75 L741.42,588.10 L743.73,589.45 L746.05,590.80 L748.37,592.16 L750.69,593.52 L753.01,594.88 L755.32,596.24 L757.64,597.60 L759.96,598.97 L762.28,600.33 L764.59,601.70 L766.91,603.08 L769.23,604.45 L771.55,605.82 L773.86,607.20 L776.18,608.58 L778.50,609.96 L780.82,611.34 L783.14,612.72 L785.45,614.11 L787.77,615.49 L790.09,616.88 L792.41,618.27 L794.72,619.66 L797.04,621.05 L799.36,622.44 L801.68,623.83 L804.00,625.23 L806.31,626.62 L808.63,628.02 L810.95,629.42 L813.27,630.81 L815.58,632.21 L817.90,633.61 L820.22,635.01 L822.54,636.41 L824.85,637.81 L827.17,639.21 L829.49,640.62 L831.81,642.02 L834.13,643.42 L836.44,644.83 L838.76,646.23 L841.08,647.63 L843.40,649.04 L845.71,650.44 L848.03,651.85 L850.35,653.25 L852.67,654.66 L854.99,656.06 L857.30,657.46 L859.62,658.87 L861.94,660.27 L864.26,661.68 L866.57,663.08 L868.89,664.48 L871.21,665.89 L873.53,667.29 L875.85,668.69 L878.16,670.09 L880.48,671.49 L882.80,672.89 L885.12,674.29 L887.43,675.69 L889.75,677.09 L892.07,678.48 L894.39,679.88 L896.70,681.27 L899.02,682.67 L901.34,684.06 L903.66,685.45 L905.98,686.84 L908.29,688.23 L910.61,689.62 L912.93,691.01 L915.25,692.39 L917.56,693.78 L919.88,695.16 L922.20,696.54 L924.52,697.92 L926.84,699.30 L929.15,700.68 L931.47,702.05 L933.79,703.43 L936.11,704.80 L938.42,706.17 L940.74,707.53 L943.06,708.90 L945.38,710.26 L947.69,711.63 L950.01,712.99 L952.33,714.34 L954.65,715.70 L956.97,717.05 L959.28,718.40 L961.60,719.75 L963.92,721.10 L966.24,722.44 L968.55,723.78 L970.87,725.12 L973.19,726.46 L975.51,727.79 L977.83,729.12 L980.14,730.45 L982.46,731.78 L984.78,733.10 L987.10,734.42 L989.41,735.74 L991.73,737.05 L994.05,738.36 L996.37,739.67 L998.68,740.97 L1001.00,742.28 L1003.32,743.57 L1005.64,744.87 L1007.96,746.16 L1010.27,747.45 L1012.59,748.74 L1014.91,750.02 L1017.23,751.30 L1019.54,752.57 L1021.86,753.84 L1024.18,755.11 L1026.50,756.38 L1028.82,757.64 L1031.13,758.90 L1033.45,760.15 L1035.77,761.40 L1038.09,762.64 L1040.40,763.89 L1042.72,765.12 L1045.04,766.36 L1047.36,767.59 L1049.67,768.81 L1051.99,770.04 L1054.31,771.25 L1056.63,772.47 L1058.95,773.68 L1061.26,774.88 L1063.58,776.08 L1065.90,777.28 L1068.22,778.47 L1070.53,779.66 L1072.85,780.84 L1075.17,782.02 L1077.49,783.19 L1079.81,784.36 L1082.12,785.52 L1084.44,786.68 L1086.76,787.84 L1089.08,788.99 L1091.39,790.14 L1093.71,791.28 L1096.03,792.41 L1098.35,793.54 L1100.66,794.67 L1102.98,795.79 L1105.30,796.90 L1107.62,798.01 L1109.94,799.12 L1112.25,800.22 L1114.57,801.31 L1116.89,802.40 L1119.21,803.49 L1121.52,804.57 L1123.84,805.64 L1126.16,806.71 L1128.48,807.77 L1130.80,808.83 L1133.11,809.88 L1135.43,810.93 L1137.75,811.97 L1140.07,813.00 L1142.38,814.03 L1144.70,815.05 L1147.02,816.07 L1149.34,817.08 L1151.65,818.09 L1153.97,819.09 L1156.29,820.09 L1158.61,821.07 L1160.93,822.06 L1163.24,823.03 L1165.56,824.00 L1167.88,824.97 L1170.20,825.93 L1172.51,826.88 L1174.83,827.82 L1177.15,828.76 L1179.47,829.70 L1181.79,830.62 L1184.10,831.54 L1186.42,832.46 L1188.74,833.37 L1191.06,834.27 L1193.37,835.16 L1195.69,836.05 L1198.01,836.94 L1200.33,837.81 L1202.64,838.68 L1204.96,839.54 L1207.28,840.40 L1209.60,841.25 L1211.92,842.09 L1214.23,842.93 L1216.55,843.76 L1218.87,844.58 L1221.19,845.39 L1223.50,846.20 L1225.82,847.01 L1228.14,847.80 L1230.46,848.59 L1232.78,849.37 L1235.09,850.14 L1237.41,850.91 L1239.73,851.67 L1242.05,852.42 L1244.36,853.17 L1246.68,853.91 L1249.00,854.64 L1251.32,855.37 L1253.63,856.08 L1255.95,856.79 L1258.27,857.50 L1260.59,858.19 L1262.91,858.88 L1265.22,859.56 L1267.54,860.24 L1269.86,860.90 L1272.18,861.56 L1274.49,862.21 L1276.81,862.86 L1279.13,863.49 L1281.45,864.12 L1283.77,864.74 L1286.08,865.36 L1288.40,865.97 L1290.72,866.57 L1293.04,867.16 L1295.35,867.74 L1297.67,868.32 L1299.99,868.89 L1302.31,869.45 L1304.62,870.00 L1306.94,870.55 L1309.26,871.08 L1311.58,871.61 L1313.90,872.14 L1316.21,872.65 L1318.53,873.16 L1320.85,873.66 L1323.17,874.15 L1325.48,874.63 L1327.80,875.11 L1330.12,875.57 L1332.44,876.03 L1334.76,876.49 L1337.07,876.93 L1339.39,877.36 L1341.71,877.79 L1344.03,878.21 L1346.34,878.62 L1348.66,879.03 L1350.98,879.42 L1353.30,879.81 L1355.61,880.19 L1357.93,880.56 L1360.25,880.93 L1362.57,881.28 L1364.89,881.63 L1367.20,881.97 L1369.52,882.30 L1371.84,882.62 L1374.16,882.94 L1376.47,883.24 L1378.79,883.54 L1381.11,883.83 L1383.43,884.11 L1385.75,884.39 L1388.06,884.65 L1390.38,884.91 L1392.70,885.16 L1395.02,885.40 L1397.33,885.63 L1399.65,885.86 L1401.97,886.07 L1404.29,886.28 L1406.61,886.48 L1408.92,886.67 L1411.24,886.86 L1413.56,887.03 L1415.88,887.20 L1418.19,887.36 L1420.51,887.50 L1422.83,887.65 L1425.15,887.78 L1427.46,887.90 L1429.78,888.02" stroke="#00f" stroke-dasharray="7.67 5.12 15.35 5.12"/>
<path d="M270.92,418.48 L273.24,418.60 L275.55,418.72 L277.87,418.86 L280.19,419.00 L282.51,419.15 L284.82,419.30 L287.14,419.47 L289.46,419.65 L291.78,419.83 L294.09,420.02 L296.41,420.22 L298.73,420.43 L301.05,420.64 L303.37,420.87 L305.68,421.10 L308.00,421.34 L310.32,421.59 L312.64,421.85 L314.95,422.11 L317.27,422.39 L319.59,422.67 L321.91,422.96 L324.23,423.26 L326.54,423.56 L328.86,423.88 L331.18,424.20 L333.50,424.53 L335.81,424.87 L338.13,425.22 L340.45,425.58 L342.77,425.94 L345.09,426.31 L347.40,426.69 L349.72,427.08 L352.04,427.47 L354.36,427.88 L356.67,428.29 L358.99,428.71 L361.31,429.14 L363.63,429.57 L365.94,430.02 L368.26,430.47 L370.58,430.93 L372.90,431.40 L375.22,431.87 L377.53,432.35 L379.85,432.85 L382.17,433.34 L384.49,433.85 L386.80,434.37 L389.12,434.89 L391.44,435.42 L393.76,435.96 L396.08,436.50 L398.39,437.06 L400.71,437.62 L403.03,438.18 L405.35,438.76 L407.66,439.35 L409.98,439.94 L412.30,440.54 L414.62,441.14 L416.93,441.76 L419.25,442.38 L421.57,443.01 L423.89,443.64 L426.21,444.29 L428.52,444.94 L430.84,445.60 L433.16,446.27 L435.48,446.94 L437.79,447.62 L440.11,448.31 L442.43,449.01 L444.75,449.71 L447.07,450.42 L449.38,451.14 L451.70,451.86 L454.02,452.59 L456.34,453.33 L458.65,454.08 L460.97,454.83 L463.29,455.59 L465.61,456.36 L467.92,457.13 L470.24,457.91 L472.56,458.70 L474.88,459.50 L477.20,460.30 L479.51,461.11 L481.83,461.92 L484.15,462.75 L486.47,463.57 L488.78,464.41 L491.10,465.25 L493.42,466.10 L495.74,466.96 L498.06,467.82 L500.37,468.69 L502.69,469.57 L505.01,470.45 L507.33,471.34 L509.64,472.23 L511.96,473.13 L514.28,474.04 L516.60,474.96 L518.91,475.88 L521.23,476.81 L523.55,477.74 L525.87,478.68 L528.19,479.62 L530.50,480.58 L532.82,481.53 L535.14,482.50 L537.46,483.47 L539.77,484.45 L542.09,485.43 L544.41,486.42 L546.73,487.41 L549.05,488.41 L551.36,489.42 L553.68,490.43 L556.00,491.45 L558.32,492.47 L560.63,493.50 L562.95,494.53 L565.27,495.58 L567.59,496.62 L569.90,497.67 L572.22,498.73 L574.54,499.79 L576.86,500.86 L579.18,501.93 L581.49,503.01 L583.81,504.10 L586.13,505.19 L588.45,506.28 L590.76,507.38 L593.08,508.49 L595.40,509.60 L597.72,510.71 L600.04,511.83 L602.35,512.96 L604.67,514.09 L606.99,515.23 L609.31,516.37 L611.62,517.51 L613.94,518.66 L616.26,519.82 L618.58,520.98 L620.89,522.14 L623.21,523.31 L625.53,524.48 L627.85,525.66 L630.17,526.85 L632.48,528.03 L634.80,529.22 L637.12,530.42 L639.44,531.62 L641.75,532.83 L644.07,534.04 L646.39,535.25 L648.71,536.47 L651.03,537.69 L653.34,538.91 L655.66,540.14 L657.98,541.38 L660.30,542.62 L662.61,543.86 L664.93,545.10 L667.25,546.35 L669.57,547.61 L671.88,548.86 L674.20,550.12 L676.52,551.39 L678.84,552.66 L681.16,553.93 L683.47,555.20 L685.79,556.48 L688.11,557.77 L690.43,559.05 L692.74,560.34 L695.06,561.63 L697.38,562.93 L699.70,564.23 L702.02,565.53 L704.33,566.83 L706.65,568.14 L708.97,569.45 L711.29,570.77 L713.60,572.08 L715.92,573.40 L718.24,574.73 L720.56,576.05 L722.87,577.38 L725.19,578.71 L727.51,580.04 L729.83,581.38 L732.15,582.72 L734.46,584.06 L736.78,585.40 L739.10,586.75 L741.42,588.10 L743.73,589.45 L746.05,590.80 L748.37,592.16 L750.69,593.52 L753.01,594.88 L755.32,596.24 L757.64,597.60 L759.96,598.97 L762.28,600.33 L764.59,601.70 L766.91,603.08 L769.23,604.45 L771.55,605.82 L773.86,607.20 L776.18,608.58 L778.50,609.96 L780.82,611.34 L783.14,612.72 L785.45,614.11 L787.77,615.49 L790.09,616.88 L792.41,618.27 L794.72,619.66 L797.04,621.05 L799.36,622.44 L801.68,623.83 L804.00,625.23 L806.31,626.62 L808.63,628.02 L810.95,629.42 L813.27,630.81 L815.58,632.21 L817.90,633.61 L820.22,635.01 L822.54,636.41 L824.85,637.81 L827.17,639.21 L829.49,640.62 L831.81,642.02 L834.13,643.42 L836.44,644.83 L838.76,646.23 L841.08,647.63 L843.40,649.04 L845.71,650.44 L848.03,651.85 L850.35,653.25 L852.67,654.66 L854.99,656.06 L857.30,657.46 L859.62,658.87 L861.94,660.27 L864.26,661.68 L866.57,663.08 L868.89,664.48 L871.21,665.89 L873.53,667.29 L875.85,668.69 L878.16,670.09 L880.48,671.49 L882.80,672.89 L885.12,674.29 L887.43,675.69 L889.75,677.09 L892.07,678.48 L894.39,679.88 L896.70,681.27 L899.02,682.67 L901.34,684.06 L903.66,685.45 L905.98,686.84 L908.29,688.23 L910.61,689.62 L912.93,691.01 L915.25,692.39 L917.56,693.78 L919.88,695.16 L922.20,696.54 L924.52,697.92 L926.84,699.30 L929.15,700.68 L931.47,702.05 L933.79,703.43 L936.11,704.80 L938.42,706.17 L940.74,707.53 L943.06,708.90 L945.38,710.26 L947.69,711.63 L950.01,712.99 L952.33,714.34 L954.65,715.70 L956.97,717.05 L959.28,718.40 L961.60,719.75 L963.92,721.10 L966.24,722.44 L968.55,723.78 L970.87,725.12 L973.19,726.46 L975.51,727.79 L977.83,729.12 L980.14,730.45 L982.46,731.78 L984.78,733.10 L987.10,734.42 L989.41,735.74 L991.73,737.05 L994.05,738.36 L996.37,739.67 L998.68,740.97 L1001.00,742.28 L1003.32,743.57 L1005.64,744.87 L1007.96,746.16 L1010.27,747.45 L1012.59,748.74 L1014.91,750.02 L1017.23,751.30 L1019.54,752.57 L1021.86,753.84 L1024.18,755.11 L1026.50,756.38 L1028.82,757.64 L1031.13,758.90 L1033.45,760.15 L1035.77,761.40 L1038.09,762.64 L1040.40,763.89 L1042.72,765.12 L1045.04,766.36 L1047.36,767.59 L1049.67,768.81 L1051.99,770.04 L1054.31,771.25 L1056.63,772.47 L1058.95,773.68 L1061.26,774.88 L1063.58,776.08 L1065.90,777.28 L1068.22,778.47 L1070.53,779.66 L1072.85,780.84 L1075.17,782.02 L1077.49,783.19 L1079.81,784.36 L1082.12,785.52 L1084.44,786.68 L1086.76,787.84 L1089.08,788.99 L1091.39,790.14 L1093.71,791.28 L1096.03,792.41 L1098.35,793.54 L1100.66,794.67 L1102.98,795.79 L1105.30,796.90 L1107.62,798.01 L1109.94,799.12 L1112.25,800.22 L1114.57,801.31 L1116.89,802.40 L1119.21,803.49 L1121.52,804.57 L1123.84,805.64 L1126.16,806.71 L1128.48,807.77 L1130.80,808.83 L1133.11,809.88 L1135.43,810.93 L1137.75,811.97 L1140.07,813.00 L1142.38,814.03 L1144.70,815.05 L1147.02,816.07 L1149.34,817.08 L1151.65,818.09 L1153.97,819.09 L1156.29,820.09 L1158.61,821.07 L1160.93,822.06 L1163.24,823.03 L1165.56,824.00 L1167.88,824.97 L1170.20,825.93 L1172.51,826.88 L1174.83,827.82 L1177.15,828.76 L1179.47,829.70 L1181.79,830.62 L1184.10,831.54 L1186.42,832.46 L1188.74,833.37 L1191.06,834.27 L1193.37,835.16 L1195.69,836.05 L1198.01,836.94 L1200.33,837.81 L1202.64,838.68 L1204.96,839.54 L1207.28,840.40 L1209.60,841.25 L1211.92,842.09 L1214.23,842.93 L1216.55,843.76 L1218.87,844.58 L1221.19,845.39 L1223.50,846.20 L1225.82,847.01 L1228.14,847.80 L1230.46,848.59 L1232.78,849.37 L1235.09,850.14 L1237.41,850.91 L1239.73,851.67 L1242.05,852.42 L1244.36,853.17 L1246.68,853.91 L1249.00,854.64 L1251.32,855.37 L1253.63,856.08 L1255.95,856.79 L1258.27,857.50 L1260.59,858.19 L1262.91,858.88 L1265.22,859.56 L1267.54,860.24 L1269.86,860.90 L1272.18,861.56 L1274.49,862.21 L1276.81,862.86 L1279.13,863.49 L1281.45,864.12 L1283.77,864.74 L1286.08,865.36 L1288.40,865.97 L1290.72,866.57 L1293.04,867.16 L1295.35,867.74 L1297.67,868.32 L1299.99,868.89 L1302.31,869.45 L1304.62,870.00 L1306.94,870.55 L1309.26,871.08 L1311.58,871.61 L1313.90,872.14 L1316.21,872.65 L1318.53,873.16 L1320.85,873.66 L1323.17,874.15 L1325.48,874.63 L1327.80,875.11 L1330.12,875.57 L1332.44,876.03 L1334.76,876.49 L1337.07,876.93 L1339.39,877.36 L1341.71,877.79 L1344.03,878.21 L1346.34,878.62 L1348.66,879.03 L1350.98,879.42 L1353.30,879.81 L1355.61,880.19 L1357.93,880.56 L1360.25,880.93 L1362.57,881.28 L1364.89,881.63 L1367.20,881.97 L1369.52,882.30 L1371.84,882.62 L1374.16,882.94 L1376.47,883.24 L1378.79,883.54 L1381.11,883.83 L1383.43,884.11 L1385.75,884.39 L1388.06,884.65 L1390.38,884.91 L1392.70,885.16 L1395.02,885.40 L1397.33,885.63 L1399.65,885.86 L1401.97,886.07 L1404.29,886.28 L1406.61,886.48 L1408.92,886.67 L1411.24,886.86 L1413.56,887.03 L1415.88,887.20 L1418.19,887.36 L1420.51,887.50 L1422.83,887.65 L1425.15,887.78 L1427.46,887.90 L1429.78,888.02" stroke="#f00" stroke-dasharray="67 55.15"/>
<path d="M270.92,418.48 L273.24,418.60 L275.55,418.72 L277.87,418.86 L280.19,419.00 L282.51,419.15 L284.82,419.30 L287.14,419.47 L289.46,419.65 L291.78,419.83 L294.09,420.02 L296.41,420.22 L298.73,420.43 L301.05,420.64 L303.37,420.87 L305.68,421.10 L308.00,421.34 L310.32,421.59 L312.64,421.85 L314.95,422.11 L317.27,422.39 L319.59,422.67 L321.91,422.96 L324.23,423.26 L326.54,423.56 L328.86,423.88 L331.18,424.20 L333.50,424.53 L335.81,424.87 L338.13,425.22 L340.45,425.58 L342.77,425.94 L345.09,426.31 L347.40,426.69 L349.72,427.08 L352.04,427.47 L354.36,427.88 L356.67,428.29 L358.99,428.71 L361.31,429.14 L363.63,429.57 L365.94,430.02 L368.26,430.47 L370.58,430.93 L372.90,431.40 L375.22,431.87 L377.53,432.35 L379.85,432.85 L382.17,433.34 L384.49,433.85 L386.80,434.37 L389.12,434.89 L391.44,435.42 L393.76,435.96 L396.08,436.50 L398.39,437.06 L400.71,437.62 L403.03,438.18 L405.35,438.76 L407.66,439.35 L409.98,439.94 L412.30,440.54 L414.62,441.14 L416.93,441.76 L419.25,442.38 L421.57,443.01 L423.89,443.64 L426.21,444.29 L428.52,444.94 L430.84,445.60 L433.16,446.27 L435.48,446.94 L437.79,447.62 L440.11,448.31 L442.43,449.01 L444.75,449.71 L447.07,450.42 L449.38,451.14 L451.70,451.86 L454.02,452.59 L456.34,453.33 L458.65,454.08 L460.97,454.83 L463.29,455.59 L465.61,456.36 L467.92,457.13 L470.24,457.91 L472.56,458.70 L474.88,459.50 L477.20,460.30 L479.51,461.11 L481.83,461.92 L484.15,462.75 L486.47,463.57 L488.78,464.41 L491.10,465.25 L493.42,466.10 L495.74,466.96 L498.06,467.82 L500.37,468.69 L502.69,469.57 L505.01,470.45 L507.33,471.34 L509.64,472.23 L511.96,473.13 L514.28,474.04 L516.60,474.96 L518.91,475.88 L521.23,476.81 L523.55,477.74 L525.87,478.68 L528.19,479.62 L530.50,480.58 L532.82,481.53 L535.14,482.50 L537.46,483.47 L539.77,484.45 L542.09,485.43 L544.41,486.42 L546.73,487.41 L549.05,488.41 L551.36,489.42 L553.68,490.43 L556.00,491.45 L558.32,492.47 L560.63,493.50 L562.95,494.53 L565.27,495.58 L567.59,496.62 L569.90,497.67 L572.22,498.73 L574.54,499.79 L576.86,500.86 L579.18,501.93 L581.49,503.01 L583.81,504.10 L586.13,505.19 L588.45,506.28 L590.76,507.38 L593.08,508.49 L595.40,509.60 L597.72,510.71 L600.04,511.83 L602.35,512.96 L604.67,514.09 L606.99,515.23 L609.31,516.37 L611.62,517.51 L613.94,518.66 L616.26,519.82 L618.58,520.98 L620.89,522.14 L623.21,523.31 L625.53,524.48 L627.85,525.66 L630.17,526.85 L632.48,528.03 L634.80,529.22 L637.12,530.42 L639.44,531.62 L641.75,532.83 L644.07,534.04 L646.39,535.25 L648.71,536.47 L651.03,537.69 L653.34,538.91 L655.66,540.14 L657.98,541.38 L660.30,542.62 L662.61,543.86 L664.93,545.10 L667.25,546.35 L669.57,547.61 L671.88,548.86 L674.20,550.12 L676.52,551.39 L678.84,552.66 L681.16,553.93 L683.47,555.20 L685.79,556.48 L688.11,557.77 L690.43,559.05 L692.74,560.34 L695.06,561.63 L697.38,562.93 L699.70,564.23 L702.02,565.53 L704.33,566.83 L706.65,568.14 L708.97,569.45 L711.29,570.77 L713.60,572.08 L715.92,573.40 L718.24,574.73 L720.56,576.05 L722.87,577.38 L725.19,578.71 L727.51,580.04 L729.83,581.38 L732.15,582.72 L734.46,584.06 L736.78,585.40 L739.10,586.75 L741.42,588.10 L743.73,589.45 L746.05,590.80 L748.37,592.16 L750.69,593.52 L753.01,594.88 L755.32,596.24 L757.64,597.60 L759.96,598.97 L762.28,600.33 L764.59,601.70 L766.91,603.08 L769.23,604.45 L771.55,605.82 L773.86,607.20 L776.18,608.58 L778.50,609.96 L780.82,611.34 L783.14,612.72 L785.45,614.11 L787.77,615.49 L790.09,616.88 L792.41,618.27 L794.72,619.66 L797.04,621.05 L799.36,622.44 L801.68,623.83 L804.00,625.23 L806.31,626.62 L808.63,628.02 L810.95,629.42 L813.27,630.81 L815.58,632.21 L817.90,633.61 L820.22,635.01 L822.54,636.41 L824.85,637.81 L827.17,639.21 L829.49,640.62 L831.81,642.02 L834.13,643.42 L836.44,644.83 L838.76,646.23 L841.08,647.63 L843.40,649.04 L845.71,650.44 L848.03,651.85 L850.35,653.25 L852.67,654.66 L854.99,656.06 L857.30,657.46 L859.62,658.87 L861.94,660.27 L864.26,661.68 L866.57,663.08 L868.89,664.48 L871.21,665.89 L873.53,667.29 L875.85,668.69 L878.16,670.09 L880.48,671.49 L882.80,672.89 L885.12,674.29 L887.43,675.69 L889.75,677.09 L892.07,678.48 L894.39,679.88 L896.70,681.27 L899.02,682.67 L901.34,684.06 L903.66,685.45 L905.98,686.84 L908.29,688.23 L910.61,689.62 L912.93,691.01 L915.25,692.39 L917.56,693.78 L919.88,695.16 L922.20,696.54 L924.52,697.92 L926.84,699.30 L929.15,700.68 L931.47,702.05 L933.79,703.43 L936.11,704.80 L938.42,706.17 L940.74,707.53 L943.06,708.90 L945.38,710.26 L947.69,711.63 L950.01,712.99 L952.33,714.34 L954.65,715.70 L956.97,717.05 L959.28,718.40 L961.60,719.75 L963.92,721.10 L966.24,722.44 L968.55,723.78 L970.87,725.12 L973.19,726.46 L975.51,727.79 L977.83,729.12 L980.14,730.45 L982.46,731.78 L984.78,733.10 L987.10,734.42 L989.41,735.74 L991.73,737.05 L994.05,738.36 L996.37,739.67 L998.68,740.97 L1001.00,742.28 L1003.32,743.57 L1005.64,744.87 L1007.96,746.16 L1010.27,747.45 L1012.59,748.74 L1014.91,750.02 L1017.23,751.30 L1019.54,752.57 L1021.86,753.84 L1024.18,755.11 L1026.50,756.38 L1028.82,757.64 L1031.13,758.90 L1033.45,760.15 L1035.77,761.40 L1038.09,762.64 L1040.40,763.89 L1042.72,765.12 L1045.04,766.36 L1047.36,767.59 L1049.67,768.81 L1051.99,770.04 L1054.31,771.25 L1056.63,772.47 L1058.95,773.68 L1061.26,774.88 L1063.58,776.08 L1065.90,777.28 L1068.22,778.47 L1070.53,779.66 L1072.85,780.84 L1075.17,782.02 L1077.49,783.19 L1079.81,784.36 L1082.12,785.52 L1084.44,786.68 L1086.76,787.84 L1089.08,788.99 L1091.39,790.14 L1093.71,791.28 L1096.03,792.41 L1098.35,793.54 L1100.66,794.67 L1102.98,795.79 L1105.30,796.90 L1107.62,798.01 L1109.94,799.12 L1112.25,800.22 L1114.57,801.31 L1116.89,802.40 L1119.21,803.49 L1121.52,804.57 L1123.84,805.64 L1126.16,806.71 L1128.48,807.77 L1130.80,808.83 L1133.11,809.88 L1135.43,810.93 L1137.75,811.97 L1140.07,813.00 L1142.38,814.03 L1144.70,815.05 L1147.02,816.07 L1149.34,817.08 L1151.65,818.09 L1153.97,819.09 L1156.29,820.09 L1158.61,821.07 L1160.93,822.06 L1163.24,823.03 L1165.56,824.00 L1167.88,824.97 L1170.20,825.93 L1172.51,826.88 L1174.83,827.82 L1177.15,828.76 L1179.47,829.70 L1181.79,830.62 L1184.10,831.54 L1186.42,832.46 L1188.74,833.37 L1191.06,834.27 L1193.37,835.16 L1195.69,836.05 L1198.01,836.94 L1200.33,837.81 L1202.64,838.68 L1204.96,839.54 L1207.28,840.40 L1209.60,841.25 L1211.92,842.09 L1214.23,842.93 L1216.55,843.76 L1218.87,844.58 L1221.19,845.39 L1223.50,846.20 L1225.82,847.01 L1228.14,847.80 L1230.46,848.59 L1232.78,849.37 L1235.09,850.14 L1237.41,850.91 L1239.73,851.67 L1242.05,852.42 L1244.36,853.17 L1246.68,853.91 L1249.00,854.64 L1251.32,855.37 L1253.63,856.08 L1255.95,856.79 L1258.27,857.50 L1260.59,858.19 L1262.91,858.88 L1265.22,859.56 L1267.54,860.24 L1269.86,860.90 L1272.18,861.56 L1274.49,862.21 L1276.81,862.86 L1279.13,863.49 L1281.45,864.12 L1283.77,864.74 L1286.08,865.36 L1288.40,865.97 L1290.72,866.57 L1293.04,867.16 L1295.35,867.74 L1297.67,868.32 L1299.99,868.89 L1302.31,869.45 L1304.62,870.00 L1306.94,870.55 L1309.26,871.08 L1311.58,871.61 L1313.90,872.14 L1316.21,872.65 L1318.53,873.16 L1320.85,873.66 L1323.17,874.15 L1325.48,874.63 L1327.80,875.11 L1330.12,875.57 L1332.44,876.03 L1334.76,876.49 L1337.07,876.93 L1339.39,877.36 L1341.71,877.79 L1344.03,878.21 L1346.34,878.62 L1348.66,879.03 L1350.98,879.42 L1353.30,879.81 L1355.61,880.19 L1357.93,880.56 L1360.25,880.93 L1362.57,881.28 L1364.89,881.63 L1367.20,881.97 L1369.52,882.30 L1371.84,882.62 L1374.16,882.94 L1376.47,883.24 L1378.79,883.54 L1381.11,883.83 L1383.43,884.11 L1385.75,884.39 L1388.06,884.65 L1390.38,884.91 L1392.70,885.16 L1395.02,885.40 L1397.33,885.63 L1399.65,885.86 L1401.97,886.07 L1404.29,886.28 L1406.61,886.48 L1408.92,886.67 L1411.24,886.86 L1413.56,887.03 L1415.88,887.20 L1418.19,887.36 L1420.51,887.50 L1422.83,887.65 L1425.15,887.78 L1427.46,887.90 L1429.78,888.02" stroke="#0ff" stroke-dasharray="102.7 19.45"/>
</g>
<g class="k">
<rect x="239" y="87" width="1222" height="1"/>
<rect x="239" y="1308" width="1222" height="1"/>
<rect x="239" y="87" width="1" height="1222"/>
<rect x="1460" y="87" width="1" height="1222"/>
<rect x="237" y="1297" width="6" height="12"/>
<rect x="237" y="87" width="6" height="12"/>
<rect x="305" y="1302" width="6" height="7"/>
<rect x="305" y="87" width="6" height="7"/>
<rect x="372" y="1302" width="7" height="7"/>
<rect x="372" y="87" width="7" height="7"/>
<rect x="440" y="1302" width="6" height="7"/>
<rect x="440" y="87" width="6" height="7"/>
<rect x="508" y="1302" width="6" height="7"/>
<rect x="508" y="87" width="6" height="7"/>
<rect x="576" y="1297" width="6" height="12"/>
<rect x="576" y="87" width="6" height="12"/>
<rect x="644" y="1302" width="6" height="7"/>
<rect x="644" y="87" width="6" height="7"/>
<rect x="712" y="1302" width="6" height="7"/>
<rect x="712" y="87" width="6" height="7"/>
<rect x="779" y="1302" width="7" height="7"/>
<rect x="779" y="87" width="7" height="7"/>
<rect x="847" y="1302" width="6" height="7"/>
<rect x="847" y="87" width="6" height="7"/>
<rect x="915" y="1297" width="6" height="12"/>
<rect x="915" y="87" width="6" height="12"/>
<rect x="983" y="1302" width="6" height="7"/>
<rect x="983" y="87" width="6" height="7"/>
<rect x="1051" y="1302" width="6" height="7"/>
<rect x="1051" y="87" width="6" height="7"/>
<rect x="1119" y="1302" width="6" height="7"/>
<rect x="1119" y="87" width="6" height="7"/>
<rect x="1186" y="1302" width="7" height="7"/>
<rect x="1186" y="87" width="7" height="7"/>
<rect x="1254" y="1297" width="6" height="12"/>
<rect x="1254" y="87" width="6" height="12"/>
<rect x="1322" y="1302" width="6" height="7"/>
<rect x="1322" y="87" width="6" height="7"/>
<rect x="1390" y="1302" width="6" height="7"/>
<rect x="1390" y="87" width="6" height="7"/>
<rect x="1458" y="1302" width="6" height="7"/>
<rect x="1458" y="87" width="6" height="7"/>
<rect x="239" y="1305" width="7" height="6"/>
<rect x="1454" y="1305" width="7" height="6"/>
<rect x="239" y="1272" width="7" height="6"/>
<rect x="1454" y="1272" width="7" height="6"/>
<rect x="239" y="1239" width="12" height="6"/>
<rect x="1450" y="1239" width="11" height="6"/>
<rect x="239" y="1206" width="7" height="6"/>
<rect x="1454" y="1206" width="7" height="6"/>
<rect x="239" y="1173" width="7" height="6"/>
<rect x="1454" y="1173" width="7" height="6"/>
<rect x="239" y="1140" width="7" height="6"/>
<rect x="1454" y="1140" width="7" height="6"/>
<rect x="239" y="1107" width="7" height="6"/>
<rect x="1454" y="1107" width="7" height="6"/>
<rect x="239" y="1074" width="12" height="6"/>
<rect x="1450" y="1074" width="11" height="6"/>
<rect x="239" y="1041" width="7" height="6"/>
<rect x="1454" y="1041" width="7" height="6"/>
<rect x="239" y="1008" width="7" height="6"/>
<rect x="1454" y="1008" width="7" height="6"/>
<rect x="239" y="975" width="7" height="6"/>
<rect x="1454" y="975" width="7" height="6"/>
<rect x="239" y="942" width="7" height="6"/>
<rect x="1454" y="942" width="7" height="6"/>
<rect x="239" y="909" width="12" height="6"/>
<rect x="1450" y="909" width="11" height="6"/>
<rect x="239" y="876" width="7" height="6"/>
<rect x="1454" y="876" width="7" height="6"/>
<rect x="239" y="843" width="7" height="7"/>
<rect x="1454" y="843" width="7" height="7"/>
<rect x="239" y="810" width="7" height="7"/>
<rect x="1454" y="810" width="7" height="7"/>
<rect x="239" y="777" width="7" height="7"/>
<rect x="1454" y="777" width="7" height="7"/>
<rect x="239" y="744" width="12" height="7"/>
<rect x="1450" y="744" width="11" height="7"/>
<rect x="239" y="711" width="7" height="7"/>
<rect x="1454" y="711" width="7" height="7"/>
<rect x="239" y="678" width="7" height="7"/>
<rect x="1454" y="678" width="7" height="7"/>
<rect x="239" y="645" width="7" height="7"/>
<rect x="1454" y="645" width="7" height="7"/>
<rect x="239" y="612" width="7" height="7"/>
<rect x="1454" y="612" width="7" height="7"/>
<rect x="239" y="579" width="12" height="7"/>
<rect x="1450" y="579" width="11" height="7"/>
<rect x="239" y="546" width="7" height="7"/>
<rect x="1454" y="546" width="7" height="7"/>
<rect x="239" y="514" width="7" height="6"/>
<rect x="1454" y="514" width="7" height="6"/>
<rect x="239" y="481" width="7" height="6"/>
<rect x="1454" y="481" width="7" height="6"/>
<rect x="239" y="448" width="7" height="6"/>
<rect x="1454" y="448" width="7" height="6"/>
<rect x="239" y="415" width="12" height="6"/>
<rect x="1450" y="415" width="11" height="6"/>
<rect x="239" y="382" width="7" height="6"/>
<rect x="1454" y="382" width="7" height="6"/>
<rect x="239" y="349" width="7" height="6"/>
<rect x="1454" y="349" width="7" height="6"/>
<rect x="239" y="316" width="7" height="6"/>
<rect x="1454" y="316" width="7" height="6"/>
<rect x="239" y="283" width="7" height="6"/>
<rect x="1454" y="283" width="7" height="6"/>
<rect x="239" y="250" width="12" height="6"/>
<rect x="1450" y="250" width="11" height="6"/>
<rect x="239" y="217" width="7" height="6"/>
<rect x="1454" y="217" width="7" height="6"/>
<rect x="239" y="184" width="7" height="6"/>
<rect x="1454" y="184" width="7" height="6"/>
<rect x="239" y="151" width="7" height="6"/>
<rect x="1454" y="151" width="7" height="6"/>
<rect x="239" y="118" width="7" height="6"/>
<rect x="1454" y="118" width="7" height="6"/>
<rect x="239" y="85" width="12" height="6"/>
<rect x="1450" y="85" width="11" height="6"/>
</g>
<g font-size="64">
<text transform="matrix(1.0063 0 0 1.0546 119.14 109.97)">0.60</text>
<text transform="matrix(1.0063 0 0 1.0546 119.14 1264.97)">0.25</text>
<text transform="matrix(1.0063 0 0 1.0546 119.14 1099.97)">0.30</text>
<text transform="matrix(1.0063 0 0 1.0546 119.14 934.97)">0.35</text>
<text transform="matrix(1.0063 0 0 1.0546 119.14 769.97)">0.40</text>
<text transform="matrix(1.0063 0 0 1.0546 119.14 604.97)">0.45</text>
<text transform="matrix(1.0063 0 0 1.0546 119.14 439.97)">0.50</text>
<text transform="matrix(1.0063 0 0 1.0546 119.14 274.97)">0.55</text>
<text transform="matrix(1.0063 0 0 1.0546 223.65 1373.97)">0</text>
<text transform="matrix(1.0063 0 0 1.0546 546.45 1373.97)">50</text>
<text transform="matrix(1.0063 0 0 1.0546 869.25 1373.97)">100</text>
<text transform="matrix(1.0063 0 0 1.0546 1208.25 1373.97)">150</text>
</g>
<g>
<text class="it" font-size="65" transform="matrix(1.0782 0 0 1.0155 794.48 58.73)">α</text>
<text style="stroke:#000;stroke-width:0.7" font-size="65" transform="matrix(1.0664 0 0 1.0029 833.92 63.15)">=</text>
<text font-size="65" transform="matrix(1.0094 0 0 1.0450 873.10 58.75)">0</text>
</g>
<g>
<text class="it" style="stroke-width:0.3" font-size="70" transform="matrix(1.0680 0 0 1.0136 832.19 1466.46)">θ</text>
<text class="it" font-size="65" transform="matrix(0 -1.2562 1.1273 0 86.86 755.13)">ζ</text>
<text font-size="65" transform="matrix(0 -1.0696 1.0320 0 82.13 720.48)">(</text>
<text class="it" style="stroke-width:0.3" font-size="70" transform="matrix(0 -1.0680 1.0136 0 84.46 699.81)">θ</text>
<text font-size="65" transform="matrix(0 -1.1325 1.0320 0 82.13 666.83)">)</text>
</g>
<g class="c" stroke-width="5">
<path d="M1032,215.5 H1135" stroke="#000"/>
<path d="M1032,312.5 H1131" stroke="#0f0" stroke-dasharray="15.35 5.12"/>
<path d="M1032,409.5 H1131" stroke="#808080" stroke-dasharray="7.67 5.12"/>
<path d="M1032,505.5 H1130" stroke="#00f" stroke-dasharray="7.67 5.12 15.35 5.12"/>
<path d="M1032,602.5 H1135" stroke="#f00" stroke-dasharray="49 39"/>
<path d="M1032,699.5 H1135" stroke="#0ff" stroke-dasharray="76 12"/>
</g>
<g>
<text font-size="60" transform="matrix(0.9960 0 0 1.0041 1161.88 225.40)">Breathing</text>
<text class="it" style="stroke:none" font-size="60" transform="matrix(1.0092 0 0 0.9197 1162.81 322.00)">m</text>
<text class="it" font-size="43" transform="matrix(1.0392 0 0 1.0185 1205.93 330.98)">b</text>
<text style="stroke-width:0.4" font-size="60" transform="matrix(1.1678 0 0 1.2331 1228.77 330.52)">/</text>
<text font-size="60" transform="matrix(0.9681 0 0 1.0276 1249.51 322.41)">12</text>
<text class="it" style="stroke:none" font-size="60" transform="matrix(1.0092 0 0 0.9197 1162.81 418.00)">m</text>
<text class="it" font-size="43" transform="matrix(1.0392 0 0 1.0185 1205.93 427.98)">b</text>
<text style="stroke-width:0.4" font-size="60" transform="matrix(1.1678 0 0 1.2331 1228.77 426.52)">/</text>
<text font-size="60" transform="matrix(1.0067 0 0 1.0123 1247.00 417.81)">6</text>
<text class="it" style="stroke:none" font-size="60" transform="matrix(1.0092 0 0 0.9197 1162.81 515.00)">m</text>
<text class="it" font-size="43" transform="matrix(1.0392 0 0 1.0185 1205.93 524.98)">b</text>
<text font-size="60" transform="matrix(1.0067 0 0 1.0123 1163.00 611.81)">6</text>
<text class="it" style="stroke:none" font-size="60" transform="matrix(1.0092 0 0 0.9197 1192.81 612.00)">m</text>
<text class="it" font-size="43" transform="matrix(1.0673 0 0 1.0185 1234.87 621.98)">b</text>
<text font-size="60" transform="matrix(0.9878 0 0 1.0276 1165.40 709.41)">12</text>
<text class="it" style="stroke:none" font-size="60" transform="matrix(1.0092 0 0 0.9197 1221.81 709.00)">m</text>
<text class="it" font-size="43" transform="matrix(1.0673 0 0 1.0185 1264.87 718.98)">b</text>
</g>
</svg></body></html>
